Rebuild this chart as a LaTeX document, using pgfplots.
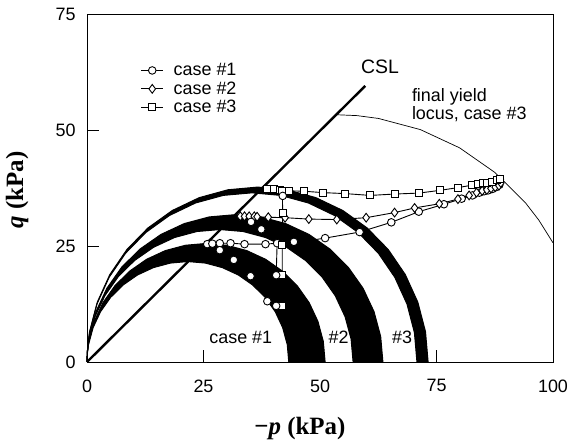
\documentclass[border=0pt]{standalone}
\usepackage{fontspec}
\setmainfont{Liberation Sans}
\newfontfamily\serif{Liberation Serif}
\usepackage{pgfplots}
\pgfplotsset{compat=1.18}
\usepgfplotslibrary{fillbetween}
\begin{document}
\begin{tikzpicture}
\begin{axis}[
  scale only axis,width=466bp,height=348bp,
  xmin=0,xmax=100,ymin=0,ymax=75,
  xtick={0,25,50,75,100},ytick={0,25,50,75},
  tick align=inside,tick pos=left,major tick length=12bp,
  axis line style={line width=1bp},
  tick style={line width=0.9bp,black},
  /pgf/number format/assume math mode=true,
  ticklabel style={font=\fontsize{18}{18}\selectfont},
  xticklabel style={yshift=-14bp},
  yticklabel style={xshift=-8bp},
  clip=false,
  legend style={at={(rel axis cs:0.115,0.864)},anchor=north west,draw=none,
    font=\fontsize{18}{18}\selectfont,row sep=0.5bp,column sep=8bp,inner sep=0pt},
  legend cell align=left,
  legend image code/.code={
    \draw[mark repeat=2,mark phase=2,#1] plot coordinates {(0bp,0bp)(11bp,0bp)(22bp,0bp)};},
  every axis plot/.append style={line width=0.9bp},
]
% swept yield loci (bands)
\addplot[name path=e1,black,line width=1bp,forget plot] coordinates {(0,0)(0.08,1.89)(0.33,3.76)(1.31,7.40)(2.90,10.83)(5.07,13.92)(7.73,16.58)(10.83,18.75)(14.25,20.34)(17.89,21.32)(21.65,21.65)(25.41,21.32)(29.05,20.34)(32.48,18.75)(35.57,16.58)(38.23,13.92)(40.40,10.83)(41.99,7.40)(42.97,3.76)(43.3,0)};
\addplot[name path=e2,black,line width=1bp,forget plot] coordinates {(0,0)(0.10,2.23)(0.39,4.44)(1.54,8.74)(3.42,12.78)(5.98,16.42)(9.13,19.57)(12.78,22.13)(16.81,24.01)(21.12,25.16)(25.55,25.55)(29.99,25.16)(34.29,24.01)(38.33,22.13)(41.97,19.57)(45.12,16.42)(47.68,12.78)(49.56,8.74)(50.71,4.44)(51.1,0)};
\addplot[name path=e3,black,line width=1bp,forget plot] coordinates {(0,0)(0.11,2.49)(0.43,4.96)(1.72,9.76)(3.83,14.28)(6.68,18.35)(10.20,21.87)(14.28,24.72)(18.79,26.83)(23.59,28.12)(28.55,28.55)(33.51,28.12)(38.31,26.83)(42.83,24.72)(46.90,21.87)(50.42,18.35)(53.27,14.28)(55.38,9.76)(56.67,4.96)(57.1,0)};
\addplot[name path=e4,black,line width=1bp,forget plot] coordinates {(0,0)(0.12,2.77)(0.48,5.51)(1.92,10.86)(4.26,15.88)(7.43,20.41)(11.34,24.32)(15.88,27.50)(20.89,29.84)(26.24,31.27)(31.75,31.75)(37.26,31.27)(42.61,29.84)(47.63,27.50)(52.16,24.32)(56.07,20.41)(59.25,15.88)(61.59,10.86)(63.02,5.51)(63.5,0)};
\addplot[name path=e5,black,line width=1bp,forget plot] coordinates {(0,0)(0.13,3.18)(0.54,6.33)(2.13,12.47)(4.74,18.23)(8.28,23.44)(12.65,27.93)(17.70,31.58)(23.29,34.27)(29.26,35.91)(35.40,36.46)(41.55,35.91)(47.51,34.27)(53.10,31.58)(58.16,27.93)(62.52,23.44)(66.06,18.23)(68.67,12.47)(70.26,6.33)(70.8,0)};
\addplot[name path=e6,black,line width=1bp,forget plot] coordinates {(0,0)(0.14,3.29)(0.56,6.54)(2.21,12.90)(4.90,18.85)(8.56,24.24)(13.07,28.88)(18.30,32.65)(24.08,35.42)(30.25,37.12)(36.60,37.70)(42.95,37.12)(49.12,35.42)(54.90,32.65)(60.13,28.88)(64.64,24.24)(68.30,18.85)(70.99,12.90)(72.64,6.54)(73.2,0)};
\addplot[black,draw=none,forget plot] fill between[of=e1 and e2];
\addplot[black,draw=none,forget plot] fill between[of=e3 and e4];
\addplot[black,draw=none,forget plot] fill between[of=e5 and e6];
% final yield locus, case #3
\addplot[black,line width=0.7bp,forget plot] coordinates {(53.3,53.3)(57.95,53.10)(62.55,52.49)(71.53,50.09)(79.95,46.16)(87.56,40.83)(94.13,34.26)(96.96,30.57)(100,25.69)};
% CSL
\addplot[black,line width=2.4bp,forget plot] coordinates {(0,0)(59.7,59.5)};
% stress paths
\addplot[black,mark=*,mark options={fill=white,solid},mark size=3.8bp] coordinates {(25.8,25.4)(26.9,25.5)(28.5,25.6)(30.8,25.6)(33.8,25.4)(38.3,25.4)(40.8,25.6)(41.9,25.3)(51.1,26.7)(58.5,28.0)(65.3,30.1)(71.2,32.4)(76.6,34.0)(80.4,35.2)(82.7,35.9)(84.2,36.5)(85.2,36.8)(86.1,37.0)(87.0,37.3)(87.8,37.7)(88.5,38.2)(88.6,39.4)};
\addlegendentry{case \#1}
\addplot[black,mark=diamond*,mark options={fill=white,solid},mark size=4.4bp] coordinates {(32.9,31.4)(33.8,31.4)(34.8,31.4)(35.9,31.4)(36.5,31.3)(38.9,31.2)(42.5,31.1)(47.6,30.8)(53.6,30.7)(59.9,31.1)(66.0,32.2)(70.3,33.2)(75.6,34.1)(79.6,35.1)(82.0,35.9)(83.6,36.5)(84.8,36.9)(85.8,37.1)(86.7,37.4)(87.6,37.7)(88.4,38.0)(88.8,38.6)};
\addlegendentry{case \#2}
\addplot[black,mark=square*,mark options={fill=white,solid},mark size=3.5bp] coordinates {(38.7,37.2)(40.1,37.2)(41.5,37.1)(43.3,36.9)(46.6,36.8)(50.7,36.5)(55.3,36.3)(60.8,35.9)(66.0,36.2)(71.2,36.4)(75.8,37.0)(79.7,37.6)(82.6,38.1)(83.8,38.3)(84.9,38.5)(85.9,38.6)(86.9,38.9)(87.9,39.2)(88.6,39.5)};
\addlegendentry{case \#3}
\addplot[black,forget plot] coordinates {(40.6,18.7)(40.8,25.6)};
\addplot[black,forget plot,mark=square*,mark options={fill=white,solid},mark size=3.5bp] coordinates {(41.9,12.1)(41.9,18.7)(41.9,25.3)(42.0,32.2)(41.9,36.9)};
\addplot[black,only marks,forget plot,mark=*,mark options={fill=white,solid},mark size=3.8bp] coordinates {(28.5,24.1)(31.5,22.0)(35.1,18.5)(38.7,13.1)(40.6,12.1)(40.6,18.7)(37.4,28.6)(35.2,30.2)(44.4,25.9)(42.0,35.8)};
% labels
\node[font=\fontsize{19.5}{19.5}\selectfont] at (axis cs:62.9,63.6) {CSL};
\node[anchor=west,align=left,inner sep=0pt,font=\fontsize{18}{18}\selectfont] at (axis cs:69.7,55.4) {final yield\\locus, case \#3};
\node[font=\fontsize{18}{18}\selectfont] at (axis cs:33.0,5.4) {case \#1};
\node[font=\fontsize{18}{18}\selectfont] at (axis cs:54.0,5.4) {\#2};
\node[font=\fontsize{18}{18}\selectfont] at (axis cs:67.6,5.4) {\#3};
\node[font=\serif\bfseries\fontsize{25}{25}\selectfont] at (axis description cs:0.457,-0.19) {−\textit{p} (kPa)};
\node[rotate=90,font=\serif\bfseries\fontsize{25}{25}\selectfont] at (axis description cs:-0.15,0.494) {\textit{q} (kPa)};
\end{axis}
\pgfresetboundingbox
\path[use as bounding box] ([shift={(-87bp,-84bp)}]current axis.south west) rectangle ([shift={(485bp,362bp)}]current axis.south west);
\end{tikzpicture}
\end{document}
